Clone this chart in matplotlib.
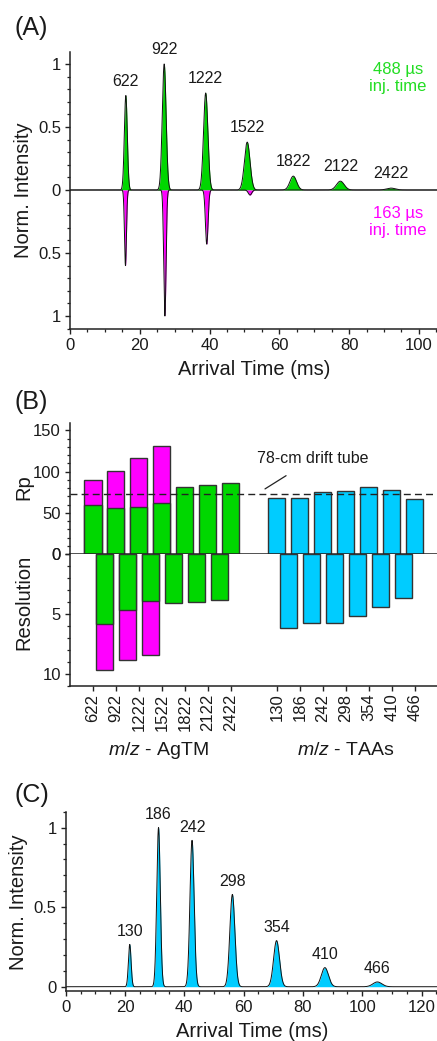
import numpy as np
import matplotlib.pyplot as plt
from matplotlib.ticker import MultipleLocator
import matplotlib.transforms as mtransforms

plt.rcParams['font.family'] = ['Liberation Sans', 'DejaVu Sans']
plt.rcParams['mathtext.fontset'] = 'custom'
plt.rcParams['mathtext.it'] = 'Liberation Sans:italic'
plt.rcParams['mathtext.rm'] = 'Liberation Sans'

GREEN = '#00d700'
MAGENTA = '#ff00ff'
CYAN = '#00ccff'
EDGE = '#333333'
TXT = '#1a1a1a'

# (A) AgTM arrival time distributions (peak centre ms, height, width ms)
agtm_mz = ['622', '922', '1222', '1522', '1822', '2122', '2422']
agtm_t_488 = [16.0, 27.0, 38.9, 50.8, 64.0, 77.5, 92.0]
agtm_h_488 = [0.75, 1.00, 0.77, 0.38, 0.11, 0.07, 0.015]
agtm_w_488 = [0.42, 0.55, 0.62, 0.80, 0.95, 1.10, 1.25]
agtm_t_163 = [15.9, 27.2, 39.2, 51.6]
agtm_h_163 = [0.60, 1.00, 0.43, 0.04]
agtm_w_163 = [0.28, 0.33, 0.38, 0.50]

# (B) resolving power (top) and resolution of neighbouring peaks (bottom)
agtm_rp_488 = [59.2, 56.3, 57.2, 61.6, 81.9, 83.9, 86.7]
agtm_rp_163 = [90.0, 100.9, 116.7, 130.5]
agtm_res_488 = [5.86, 4.64, 3.92, 4.08, 3.97, 3.81]
agtm_res_163 = [9.69, 8.81, 8.44]
taa_mz = ['130', '186', '242', '298', '354', '410', '466']
taa_rp = [67.7, 67.7, 75.8, 77.0, 81.9, 77.4, 66.9]
taa_res = [6.19, 5.78, 5.78, 5.14, 4.42, 3.69]
drift_tube_rp = 73.0

# (C) TAA arrival time distribution
taa_t = [21.6, 31.3, 42.6, 56.2, 71.1, 87.4, 105.1]
taa_h = [0.266, 1.00, 0.92, 0.58, 0.29, 0.12, 0.03]
taa_w = [0.45, 0.60, 0.70, 0.85, 1.00, 1.20, 1.50]


def trace(t, centers, heights, widths):
    y = np.zeros_like(t)
    for c, h, w in zip(centers, heights, widths):
        y += h * np.exp(-0.5 * ((t - c) / w) ** 2)
    return y


def style(ax):
    for s in ['top', 'right']:
        ax.spines[s].set_visible(False)
    for s in ['left', 'bottom']:
        ax.spines[s].set_linewidth(1.1)
        ax.spines[s].set_color('#222222')
    ax.tick_params(which='major', direction='out', length=3.5, width=1.0,
                   labelsize=12, colors='#222222', labelcolor=TXT, pad=3)
    ax.tick_params(which='minor', direction='out', length=2.0, width=0.9,
                   colors='#222222')


W, H = 437, 1041
fig = plt.figure(figsize=(W / 100, H / 100), dpi=100)

# ---------------- (A) ----------------
axA = fig.add_axes([70 / W, 1 - 329 / H, 367 / W, 277 / H])
style(axA)
t = np.linspace(0, 105.2, 8000)
y488 = trace(t, agtm_t_488, agtm_h_488, agtm_w_488)
y163 = -trace(t, agtm_t_163, agtm_h_163, agtm_w_163)
axA.fill_between(t, 0, y488, color=GREEN, lw=0)
axA.fill_between(t, 0, y163, color=MAGENTA, lw=0)
axA.plot(t, y488, color='#111111', lw=0.7)
axA.plot(t, y163, color='#111111', lw=0.7)
axA.set_xlim(0, 105.2)
axA.set_ylim(-1.103, 1.095)
axA.set_yticks([-1, -0.5, 0, 0.5, 1], labels=['1', '0.5', '0', '0.5', '1'])
axA.yaxis.set_minor_locator(MultipleLocator(0.1))
axA.xaxis.set_major_locator(MultipleLocator(20))
axA.xaxis.set_minor_locator(MultipleLocator(5))
for lab, c, h in zip(agtm_mz, agtm_t_488, agtm_h_488):
    axA.annotate(lab, (c, h), xytext=(0, 5), textcoords='offset points',
                 ha='center', va='bottom', fontsize=11.5, color=TXT)
axA.text(94, 0.89, '488 µs\ninj. time', color='#22dd22', fontsize=12,
         ha='center', va='center', linespacing=1.2)
axA.text(94, -0.254, '163 µs\ninj. time', color=MAGENTA, fontsize=12,
         ha='center', va='center', linespacing=1.2)
axA.set_xlabel('Arrival Time (ms)', fontsize=14.5, color=TXT)
axA.set_ylabel('Norm. Intensity', fontsize=14.5, color=TXT)
axA.xaxis.label.set_va('center')
axA.yaxis.label.set_va('center')
axA.xaxis.set_label_coords(0.501, -0.148)
axA.yaxis.set_label_coords(-0.128, 0.502)

# ---------------- (B) ----------------
pos_agtm = np.arange(len(agtm_mz))
pos_taa = np.arange(len(taa_mz)) + len(agtm_mz) + 1
bw = 0.74
axBu = fig.add_axes([70 / W, 1 - 554 / H, 367 / W, 131 / H])
axBl = fig.add_axes([70 / W, 1 - 686 / H, 367 / W, 132 / H])
style(axBu)
style(axBl)
bar_kw = dict(width=bw, edgecolor=EDGE, linewidth=1.0)
axBu.bar(pos_agtm[:len(agtm_rp_163)], agtm_rp_163, color=MAGENTA, **bar_kw)
axBu.bar(pos_agtm, agtm_rp_488, color=GREEN, **bar_kw)
axBu.bar(pos_taa, taa_rp, color=CYAN, **bar_kw)
axBu.axhline(drift_tube_rp, color='#222222', lw=1.0, ls=(0, (5, 3)), zorder=3)
axBu.set_xlim(-1, 14.96)
axBu.set_ylim(0, 159)
axBu.yaxis.set_major_locator(MultipleLocator(50))
axBu.yaxis.set_minor_locator(MultipleLocator(10))
axBu.set_xticks(np.concatenate([pos_agtm, pos_taa]))
axBu.tick_params(axis='x', labelbottom=False)
axBu.annotate('78-cm drift tube', xy=(7.48, 79), xytext=(9.57, 115.6),
              ha='center', va='center', fontsize=11.5, color=TXT,
              arrowprops=dict(arrowstyle='-', color='#222222', lw=0.9,
                              shrinkA=9, shrinkB=0))
axBu.set_ylabel('Rp', fontsize=14.5, color=TXT)
axBu.yaxis.label.set_va('center')
axBu.yaxis.set_label_coords(-0.125, 0.51)

axBl.spines['top'].set_visible(False)
res_pos_agtm = pos_agtm[:-1] + 0.5
res_pos_taa = pos_taa[:-1] + 0.5
axBl.bar(res_pos_agtm[:len(agtm_res_163)], agtm_res_163, color=MAGENTA, **bar_kw)
axBl.bar(res_pos_agtm, agtm_res_488, color=GREEN, **bar_kw)
axBl.bar(res_pos_taa, taa_res, color=CYAN, **bar_kw)
axBl.set_xlim(-1, 14.96)
axBl.set_ylim(11.0, 0)
axBl.yaxis.set_major_locator(MultipleLocator(5))
axBl.yaxis.set_minor_locator(MultipleLocator(1))
axBl.set_xticks(np.concatenate([pos_agtm, pos_taa]),
                labels=agtm_mz + taa_mz, rotation=90)
axBl.tick_params(axis='x', labelsize=12, pad=2)
axBl.set_ylabel('Resolution', fontsize=14.5, color=TXT)
axBl.yaxis.label.set_va('center')
axBl.yaxis.set_label_coords(-0.125, 0.63)
trans = mtransforms.blended_transform_factory(axBl.transData, axBl.transAxes)
axBl.text(np.mean(pos_agtm) - 0.15, -0.49, r'$m/z$ - AgTM', transform=trans,
          ha='center', va='center', fontsize=14, color=TXT)
axBl.text(np.mean(pos_taa), -0.49, r'$m/z$ - TAAs', transform=trans,
          ha='center', va='center', fontsize=14, color=TXT)

# ---------------- (C) ----------------
axC = fig.add_axes([65.7 / W, 1 - 990.7 / H, 371.3 / W, 179 / H])
style(axC)
t = np.linspace(0, 125.2, 8000)
yc = trace(t, taa_t, taa_h, taa_w)
axC.fill_between(t, 0, yc, color=CYAN, lw=0)
axC.plot(t, yc, color='#111111', lw=0.7)
axC.set_xlim(0, 125.2)
axC.set_ylim(-0.025, 1.10)
axC.set_yticks([0, 0.5, 1], labels=['0', '0.5', '1'])
axC.yaxis.set_minor_locator(MultipleLocator(0.1))
axC.xaxis.set_major_locator(MultipleLocator(20))
axC.xaxis.set_minor_locator(MultipleLocator(5))
for lab, c, h in zip(taa_mz, taa_t, taa_h):
    axC.annotate(lab, (c, h), xytext=(0, 4), textcoords='offset points',
                 ha='center', va='bottom', fontsize=11.5, color=TXT)
axC.set_xlabel('Arrival Time (ms)', fontsize=14.5, color=TXT)
axC.set_ylabel('Norm. Intensity', fontsize=14.5, color=TXT)
axC.xaxis.label.set_va('center')
axC.yaxis.label.set_va('center')
axC.xaxis.set_label_coords(0.501, -0.23)
axC.yaxis.set_label_coords(-0.126, 0.496)

for lab, y in [('(A)', 28), ('(B)', 402), ('(C)', 795)]:
    fig.text(14 / W, 1 - y / H, lab, fontsize=18, va='center', ha='left',
             color=TXT)

fig.savefig('out.png', dpi=100)
